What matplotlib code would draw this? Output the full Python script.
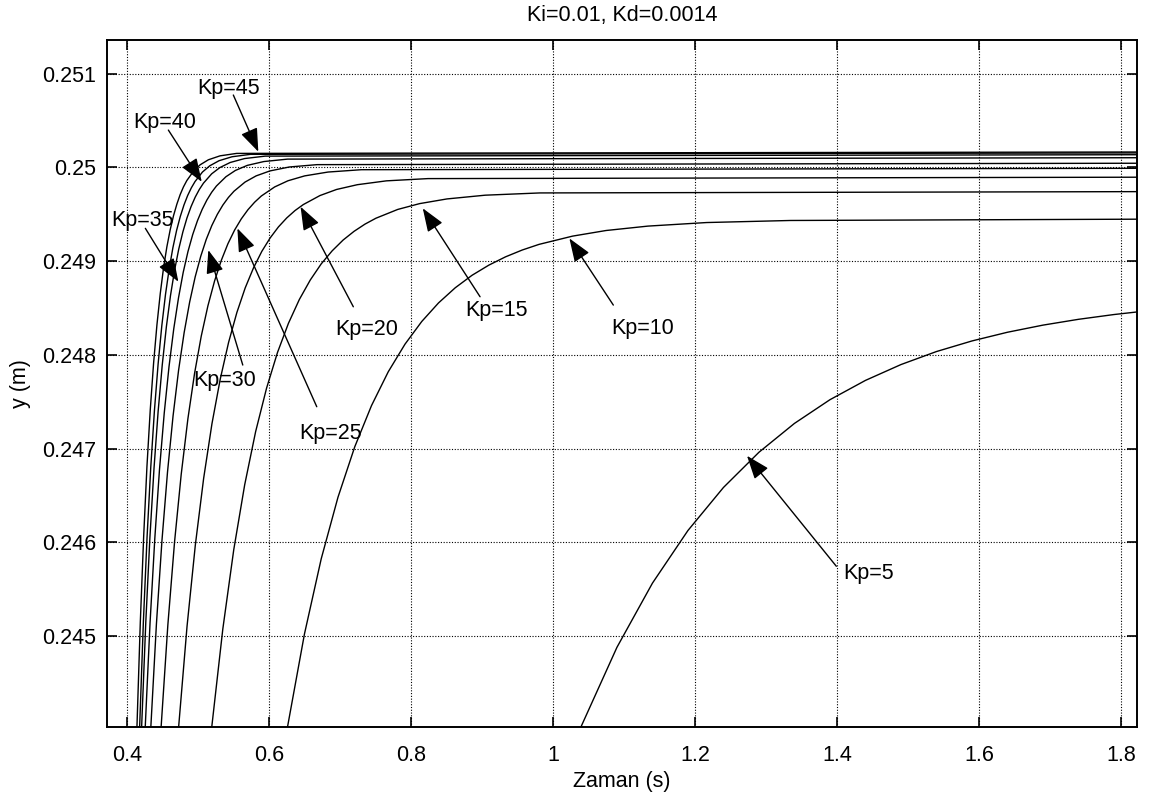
import matplotlib
matplotlib.use("Agg")
import matplotlib.pyplot as plt

plt.rcParams['font.family'] = ['Liberation Sans', 'DejaVu Sans']

# ---- data (time in s, position in m) ----
t_kp50 = [0.4093, 0.4140, 0.4187, 0.4234, 0.4280, 0.4327, 0.4374, 0.4421, 0.4468, 0.4514, 0.4561, 0.4608, 0.4655, 0.4702, 0.4748, 0.4795, 0.4842, 0.4936, 0.5029, 0.5146, 0.5310, 0.5544, 1.83]
y_kp50 = [0.242684, 0.244040, 0.245150, 0.246059, 0.246804, 0.247413, 0.247912, 0.248320, 0.248655, 0.248928, 0.249153, 0.249336, 0.249486, 0.249609, 0.249710, 0.249793, 0.249860, 0.249960, 0.250028, 0.250082, 0.250124, 0.250150, 0.250165]

t_kp45 = [0.4126, 0.4178, 0.4230, 0.4282, 0.4334, 0.4386, 0.4438, 0.4490, 0.4542, 0.4594, 0.4646, 0.4698, 0.4750, 0.4802, 0.4854, 0.4906, 0.4958, 0.5062, 0.5166, 0.5296, 0.5478, 0.5738, 1.83]
y_kp45 = [0.242686, 0.244040, 0.245149, 0.246056, 0.246799, 0.247408, 0.247905, 0.248313, 0.248647, 0.248920, 0.249144, 0.249328, 0.249477, 0.249600, 0.249701, 0.249783, 0.249850, 0.249951, 0.250018, 0.250072, 0.250114, 0.250140, 0.250155]

t_kp40 = [0.4148, 0.4206, 0.4264, 0.4322, 0.4380, 0.4438, 0.4496, 0.4554, 0.4612, 0.4670, 0.4728, 0.4786, 0.4844, 0.4902, 0.4960, 0.5018, 0.5076, 0.5192, 0.5308, 0.5453, 0.5656, 0.5946, 1.83]
y_kp40 = [0.242690, 0.244040, 0.245145, 0.246050, 0.246791, 0.247397, 0.247893, 0.248300, 0.248633, 0.248905, 0.249128, 0.249311, 0.249461, 0.249583, 0.249683, 0.249765, 0.249832, 0.249932, 0.249999, 0.250053, 0.250095, 0.250121, 0.250136]

t_kp35 = [0.4190, 0.4257, 0.4324, 0.4391, 0.4457, 0.4524, 0.4591, 0.4658, 0.4725, 0.4791, 0.4858, 0.4925, 0.4992, 0.5059, 0.5125, 0.5192, 0.5259, 0.5393, 0.5526, 0.5693, 0.5927, 0.6261, 1.83]
y_kp35 = [0.242697, 0.244040, 0.245139, 0.246039, 0.246776, 0.247379, 0.247873, 0.248278, 0.248609, 0.248880, 0.249102, 0.249284, 0.249432, 0.249554, 0.249653, 0.249735, 0.249802, 0.249901, 0.249968, 0.250022, 0.250063, 0.250089, 0.250104]

t_kp30 = [0.4258, 0.4336, 0.4414, 0.4492, 0.4570, 0.4648, 0.4726, 0.4804, 0.4882, 0.4960, 0.5038, 0.5116, 0.5194, 0.5272, 0.5350, 0.5428, 0.5506, 0.5662, 0.5818, 0.6013, 0.6286, 0.6676, 1.83]
y_kp30 = [0.242710, 0.244040, 0.245129, 0.246020, 0.246749, 0.247347, 0.247836, 0.248236, 0.248564, 0.248833, 0.249052, 0.249233, 0.249380, 0.249500, 0.249599, 0.249680, 0.249746, 0.249844, 0.249910, 0.249963, 0.250005, 0.250030, 0.250045]

t_kp25 = [0.4387, 0.4481, 0.4575, 0.4669, 0.4763, 0.4857, 0.4951, 0.5045, 0.5139, 0.5233, 0.5327, 0.5421, 0.5515, 0.5609, 0.5703, 0.5797, 0.5891, 0.6079, 0.6267, 0.6502, 0.6831, 0.7301, 1.83]
y_kp25 = [0.242722, 0.244040, 0.245119, 0.246002, 0.246725, 0.247317, 0.247802, 0.248199, 0.248523, 0.248789, 0.249007, 0.249186, 0.249332, 0.249451, 0.249549, 0.249629, 0.249695, 0.249792, 0.249858, 0.249910, 0.249951, 0.249976, 0.249991]

t_kp20 = [0.4611, 0.4728, 0.4845, 0.4962, 0.5079, 0.5196, 0.5313, 0.5430, 0.5547, 0.5664, 0.5781, 0.5898, 0.6015, 0.6132, 0.6249, 0.6366, 0.6483, 0.6717, 0.6951, 0.7244, 0.7653, 0.8238, 1.83]
y_kp20 = [0.242743, 0.244040, 0.245102, 0.245971, 0.246682, 0.247265, 0.247742, 0.248132, 0.248452, 0.248714, 0.248928, 0.249104, 0.249247, 0.249365, 0.249461, 0.249540, 0.249604, 0.249700, 0.249765, 0.249816, 0.249857, 0.249881, 0.249896]

t_kp15 = [0.5041, 0.5195, 0.5349, 0.5503, 0.5657, 0.5811, 0.5965, 0.6119, 0.6273, 0.6427, 0.6581, 0.6735, 0.6889, 0.7043, 0.7197, 0.7351, 0.7505, 0.7813, 0.8121, 0.8506, 0.9045, 0.9815, 1.83]
y_kp15 = [0.242778, 0.244040, 0.245074, 0.245920, 0.246613, 0.247180, 0.247644, 0.248025, 0.248336, 0.248591, 0.248799, 0.248971, 0.249110, 0.249225, 0.249318, 0.249395, 0.249458, 0.249552, 0.249614, 0.249664, 0.249704, 0.249728, 0.249742]

t_kp10 = [0.6027, 0.6263, 0.6499, 0.6735, 0.6971, 0.7207, 0.7443, 0.7679, 0.7915, 0.8151, 0.8387, 0.8623, 0.8859, 0.9095, 0.9331, 0.9567, 0.9803, 1.0275, 1.0747, 1.1337, 1.2163, 1.3343, 1.83]
y_kp10 = [0.242843, 0.244040, 0.245021, 0.245823, 0.246480, 0.247018, 0.247458, 0.247819, 0.248114, 0.248356, 0.248554, 0.248716, 0.248849, 0.248957, 0.249046, 0.249119, 0.249179, 0.249267, 0.249327, 0.249374, 0.249412, 0.249434, 0.249448]

t_kp5 = [0.99, 1.04, 1.09, 1.14, 1.19, 1.24, 1.29, 1.34, 1.39, 1.44, 1.49, 1.54, 1.59, 1.64, 1.69, 1.74, 1.79, 1.83]
y_kp5 = [0.243017, 0.244040, 0.244878, 0.245563, 0.246125, 0.246584, 0.246960, 0.247268, 0.247521, 0.247727, 0.247896, 0.248035, 0.248148, 0.248241, 0.248317, 0.248379, 0.248430, 0.248464]

curves_t = [t_kp50, t_kp45, t_kp40, t_kp35, t_kp30, t_kp25, t_kp20, t_kp15, t_kp10, t_kp5]
curves_y = [y_kp50, y_kp45, y_kp40, y_kp35, y_kp30, y_kp25, y_kp20, y_kp15, y_kp10, y_kp5]

labels = ["Kp=45", "Kp=40", "Kp=35", "Kp=30", "Kp=25", "Kp=20", "Kp=15", "Kp=10", "Kp=5"]
label_x = [0.5427, 0.4531, 0.4211, 0.5380, 0.6870, 0.7376, 0.9207, 1.1268, 1.4437]
label_y = [0.250844, 0.250477, 0.249439, 0.247731, 0.247162, 0.248265, 0.248478, 0.248286, 0.245661]
tail_x = [0.5497, 0.4582, 0.4258, 0.5630, 0.6672, 0.7187, 0.8972, 1.0849, 1.3990]
tail_y = [0.250773, 0.250399, 0.249350, 0.247891, 0.247446, 0.248513, 0.248620, 0.248531, 0.245743]
tip_x = [0.5849, 0.5052, 0.4723, 0.5145, 0.5554, 0.6444, 0.8165, 1.0230, 1.2732]
tip_y = [0.250168, 0.249847, 0.248780, 0.249118, 0.249350, 0.249581, 0.249564, 0.249243, 0.246922]

xticks = [0.4, 0.6, 0.8, 1.0, 1.2, 1.4, 1.6, 1.8]
xtick_labels = ["0.4", "0.6", "0.8", "1", "1.2", "1.4", "1.6", "1.8"]
yticks = [0.245, 0.246, 0.247, 0.248, 0.249, 0.25, 0.251]
ytick_labels = ["0.245", "0.246", "0.247", "0.248", "0.249", "0.25", "0.251"]

FS = 15.5

fig = plt.figure(figsize=(11.52, 7.96), dpi=100)
ax = fig.add_axes([0.0929, 0.0871, 0.8941, 0.8626])

for tx, ty in zip(curves_t, curves_y):
    ax.plot(tx, ty, color='black', linewidth=1.0)

for lab, lx, ly, ax0, ay0, ax1, ay1 in zip(labels, label_x, label_y, tail_x, tail_y, tip_x, tip_y):
    ax.annotate("", xy=(ax1, ay1), xytext=(ax0, ay0),
                arrowprops=dict(arrowstyle="-|>,head_length=0.8,head_width=0.3",
                                color='black', lw=1.0, shrinkA=0, shrinkB=0,
                                mutation_scale=18))
    ax.text(lx, ly, lab, ha='center', va='center', fontsize=FS)

ax.set_xlim(0.3718, 1.8225)
ax.set_ylim(0.244031, 0.25136)
ax.set_xticks(xticks)
ax.set_xticklabels(xtick_labels)
ax.set_yticks(yticks)
ax.set_yticklabels(ytick_labels)
ax.grid(True, color='black', linestyle=(0, (1, 1.5)), linewidth=0.8)
ax.tick_params(axis='both', direction='in', length=7, width=1.2, top=True, right=True,
               labelsize=FS, colors='black')
ax.tick_params(axis='x', pad=13)
ax.tick_params(axis='y', pad=8)
for sp in ax.spines.values():
    sp.set_linewidth(1.4)
ax.set_xlabel("Zaman (s)", fontsize=FS, labelpad=4)
ax.set_ylabel("y (m)", fontsize=FS, labelpad=8)
ax.set_title("Ki=0.01, Kd=0.0014", fontsize=FS, pad=14)

fig.savefig("out.png", dpi=100)
